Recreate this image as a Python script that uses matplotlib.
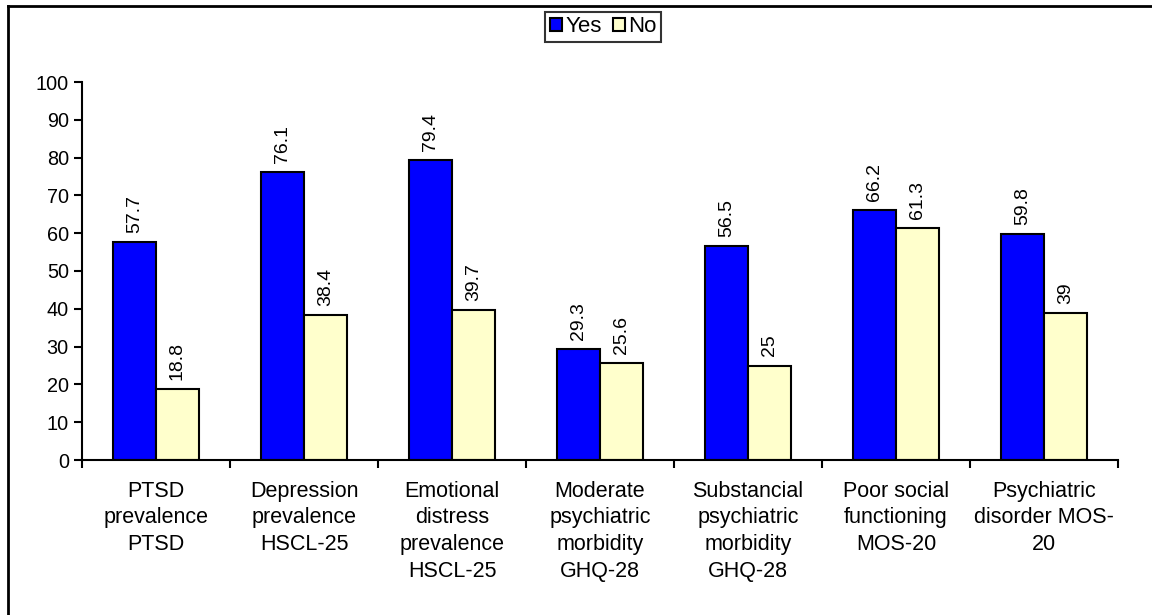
import numpy as np
import matplotlib.pyplot as plt
from matplotlib.lines import Line2D

plt.rcParams['font.family'] = ['Liberation Sans', 'DejaVu Sans']

# data
categories = ['PTSD\nprevalence\nPTSD', 'Depression\nprevalence\nHSCL-25',
              'Emotional\ndistress\nprevalence\nHSCL-25', 'Moderate\npsychiatric\nmorbidity\nGHQ-28',
              'Substancial\npsychiatric\nmorbidity\nGHQ-28', 'Poor social\nfunctioning\nMOS-20',
              'Psychiatric\ndisorder MOS-\n20']
yes_vals = [57.7, 76.1, 79.4, 29.3, 56.5, 66.2, 59.8]
no_vals = [18.8, 38.4, 39.7, 25.6, 25, 61.3, 39]
yes_labels = ['57.7', '76.1', '79.4', '29.3', '56.5', '66.2', '59.8']
no_labels = ['18.8', '38.4', '39.7', '25.6', '25', '61.3', '39']

fig = plt.figure(figsize=(11.52, 6.15), dpi=100)
ax = fig.add_axes([82 / 1152, 1 - 460 / 615, (1118 - 82) / 1152, (460 - 82) / 615])

x = np.arange(len(categories))
w = 0.29
b1 = ax.bar(x - w / 2, yes_vals, w, color='#0000FF', edgecolor='black', linewidth=1.5, label='Yes')
b2 = ax.bar(x + w / 2, no_vals, w, color='#FFFFCC', edgecolor='black', linewidth=1.5, label='No')

for bars, labs in [(b1, yes_labels), (b2, no_labels)]:
    for bar, lab in zip(bars, labs):
        ax.annotate(lab, (bar.get_x() + bar.get_width() / 2, bar.get_height()),
                    xytext=(0, 6.5), textcoords='offset points', rotation=90,
                    ha='center', va='bottom', fontsize=14)

ax.set_xlim(-0.5, len(categories) - 0.5)
ax.set_ylim(0, 100)
ax.set_yticks(range(0, 101, 10))
ax.set_xticks(np.arange(len(categories) + 1) - 0.5)
ax.set_xticklabels([])
ax.set_xticks(x, minor=True)
ax.set_xticklabels(categories, minor=True, fontsize=15.5, linespacing=1.35)
ax.tick_params(axis='x', which='minor', length=0, pad=15)
ax.tick_params(axis='x', which='major', length=6, width=1.5, direction='out')
ax.tick_params(axis='y', length=6, width=1.5, labelsize=14.3)
for s in ['top', 'right']:
    ax.spines[s].set_visible(False)
for s in ['left', 'bottom']:
    ax.spines[s].set_linewidth(1.5)

leg = fig.legend(handles=[b1, b2], labels=['Yes', 'No'], loc='center', bbox_to_anchor=(603 / 1152, 1 - 27 / 615),
                 ncol=2, fontsize=16, frameon=True, fancybox=False, edgecolor='black',
                 handlelength=0.55, handleheight=0.55, handletextpad=0.15, columnspacing=0.5,
                 borderpad=0.2, borderaxespad=0)
leg.get_frame().set_linewidth(1.5)

# outer chart border (top and left only visible)
fig.add_artist(Line2D([8 / 1152, 8 / 1152], [0, 1 - 6 / 615], transform=fig.transFigure, color='black', lw=2))
fig.add_artist(Line2D([8 / 1152, 1], [1 - 6 / 615, 1 - 6 / 615], transform=fig.transFigure, color='black', lw=2))

fig.savefig('out.png', dpi=100)
